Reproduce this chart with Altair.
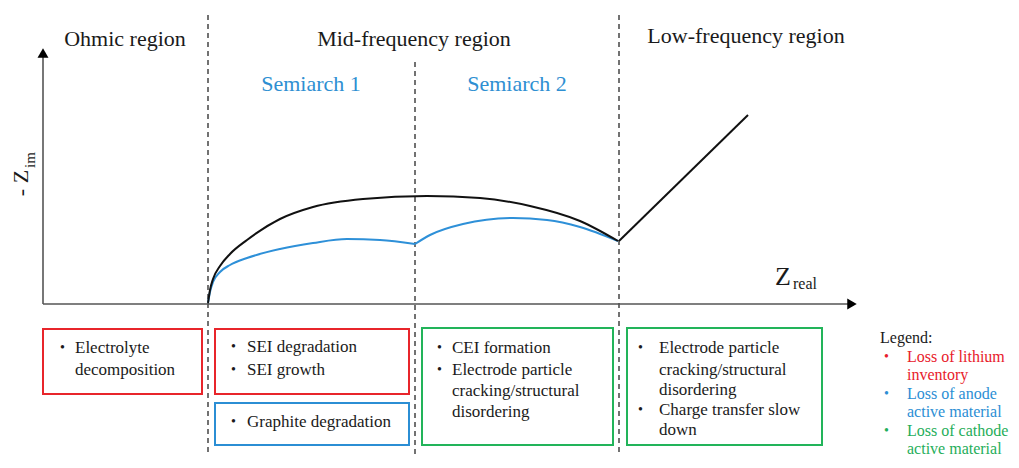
import altair as alt
import pandas as pd

# ---------------- data (image-pixel coordinates of the diagram) ----------------
region_titles = ["Ohmic region", "Mid-frequency region", "Low-frequency region"]
region_title_x = [125, 414, 746]
region_title_y = [39, 39, 36]

semiarch_labels = ["Semiarch 1", "Semiarch 2"]
semiarch_x = [311, 517]
semiarch_y = [84, 84]

divider_x = [208, 415, 619]
divider_top = [15, 62, 15]
divider_bottom = [455, 455, 455]

# Nyquist curves
total_x = [208, 210, 213, 220, 230, 247, 280, 313, 363, 427, 480, 530, 580, 618]
total_y = [303, 290, 279, 266, 254, 240, 219, 207, 199, 196, 198, 206, 221, 241]
anode1_x = [208, 210, 213, 220, 230, 247, 280, 313, 347, 380, 415]
anode1_y = [303, 292, 282, 272, 265, 258, 249, 243, 239, 240, 244]
anode2_x = [415, 430, 463, 513, 547, 580, 618]
anode2_y = [244, 235, 224, 218, 220, 227, 241]
lowfreq_x = [619, 748]
lowfreq_y = [241, 115]

# axes
axis_origin = [43, 304]
yaxis_top = 56
xaxis_right = 849
yarrow_head = [43, 53]
xarrow_head = [852, 304]

# boxes
box_x1 = [43, 215, 215, 422, 627]
box_x2 = [202, 409, 409, 613, 822]
box_y1 = [329, 329, 403, 328, 328]
box_y2 = [394, 394, 445, 445, 445]
box_color = ["#e8252b", "#e8252b", "#2b8ed4", "#22b45a", "#22b45a"]

box_lines = ["Electrolyte", "decomposition", "SEI degradation", "SEI growth",
             "Graphite degradation", "CEI formation", "Electrode particle",
             "cracking/structural", "disordering", "Electrode particle",
             "cracking/structural", "disordering", "Charge transfer slow", "down"]
box_line_x = [75, 75, 247, 247, 247, 452, 452, 452, 452, 659, 659, 659, 659, 659]
box_line_y = [348, 370, 347, 370, 422, 348, 370, 391, 412, 348, 370, 390, 410, 430]
bullet_x = [60, 231, 231, 231, 437, 437, 638, 638]
bullet_y = [348, 347, 370, 422, 348, 370, 348, 410]

legend_title = "Legend:"
legend_lines = ["Loss of lithium", "inventory", "Loss of anode", "active material",
                "Loss of cathode", "active material"]
legend_line_y = [357, 375, 394, 412, 431, 449]
legend_line_color = ["#e8202a", "#e8202a", "#2b8ed4", "#2b8ed4", "#1fae5a", "#1fae5a"]
legend_bullet_y = [357, 394, 431]
legend_bullet_color = ["#e8202a", "#2b8ed4", "#1fae5a"]

FONT = "Liberation Serif"
DARK = "#1a1a1a"
GREY = "#555555"

W, H = 1003, 452
xs = alt.Scale(domain=[8, 8 + W], nice=False, zero=False)
ys = alt.Scale(domain=[8, 8 + H], nice=False, zero=False, reverse=True)


def X(f="x"):
    return alt.X(f"{f}:Q", scale=xs, axis=None)


def Y(f="y"):
    return alt.Y(f"{f}:Q", scale=ys, axis=None)


def text_layer(xv, yv, tv, size, color, align="left", angle=0):
    df = pd.DataFrame({"x": xv, "y": yv, "t": tv})
    kw = dict(font=FONT, fontSize=size, align=align, baseline="middle")
    if angle:
        kw["angle"] = angle
    enc = dict(x=X(), y=Y(), text="t:N")
    if isinstance(color, list):
        df["c"] = color
        enc["color"] = alt.Color("c:N", scale=None)
    else:
        kw["color"] = color
    return alt.Chart(df).mark_text(**kw).encode(**enc)


layers = []

# dashed dividers
div_df = pd.DataFrame({"x": divider_x, "y": divider_top, "y2": divider_bottom})
layers.append(alt.Chart(div_df).mark_rule(color="#444444", strokeWidth=1.5, strokeDash=[5, 4])
              .encode(x=X(), y=Y(), y2="y2:Q"))

# axes
ax_df = pd.DataFrame({"x": [axis_origin[0], axis_origin[0]], "y": [axis_origin[1], axis_origin[1]],
                      "x2": [xaxis_right, axis_origin[0]], "y2": [axis_origin[1], yaxis_top]})
layers.append(alt.Chart(ax_df).mark_rule(color=GREY, strokeWidth=1.6)
              .encode(x=X(), y=Y(), x2="x2:Q", y2="y2:Q"))
layers.append(alt.Chart(pd.DataFrame({"x": [yarrow_head[0]], "y": [yarrow_head[1]]}))
              .mark_point(shape="triangle-up", filled=True, color="#000", size=120, opacity=1)
              .encode(x=X(), y=Y()))
layers.append(alt.Chart(pd.DataFrame({"x": [xarrow_head[0]], "y": [xarrow_head[1]]}))
              .mark_point(shape="triangle-right", filled=True, color="#000", size=120, opacity=1)
              .encode(x=X(), y=Y()))

# curves
def line_layer(xv, yv, color, interp):
    df = pd.DataFrame({"x": xv, "y": yv, "o": list(range(len(xv)))})
    return alt.Chart(df).mark_line(color=color, strokeWidth=2, interpolate=interp).encode(
        x=X(), y=Y(), order="o:Q")

layers.append(line_layer(anode1_x, anode1_y, "#2e90d8", "monotone"))
layers.append(line_layer(anode2_x, anode2_y, "#2e90d8", "monotone"))
layers.append(line_layer(total_x, total_y, "#111111", "monotone"))
layers.append(line_layer(lowfreq_x, lowfreq_y, "#111111", "linear"))

# boxes
box_df = pd.DataFrame({"x": box_x1, "x2": box_x2, "y": box_y1, "y2": box_y2, "c": box_color})
layers.append(alt.Chart(box_df).mark_rect(fillOpacity=0, fill="white", strokeWidth=2)
              .encode(x=X(), x2="x2:Q", y=Y(), y2="y2:Q",
                      stroke=alt.Stroke("c:N", scale=None)))

# titles
layers.append(text_layer(region_title_x, region_title_y, region_titles, 22, DARK, align="center"))
layers.append(text_layer(semiarch_x, semiarch_y, semiarch_labels, 22, "#2e8fd2", align="center"))

# axis labels
layers.append(text_layer([783], [277], ["Z"], 26, DARK, align="center"))
layers.append(text_layer([793], [284], ["real"], 16, DARK))
layers.append(text_layer([21], [183], ["- Z"], 22, DARK, align="center", angle=270))
layers.append(text_layer([30], [160], ["im"], 15, DARK, align="center", angle=270))

# box texts
layers.append(text_layer(box_line_x, box_line_y, box_lines, 17, DARK))
layers.append(text_layer(bullet_x, bullet_y, ["•"] * len(bullet_x), 14, DARK))

# legend
layers.append(text_layer([880], [338], [legend_title], 16, DARK))
layers.append(text_layer([907] * len(legend_lines), legend_line_y, legend_lines, 16, legend_line_color))
layers.append(text_layer([884] * 3, legend_bullet_y, ["•"] * 3, 14, legend_bullet_color))

chart = alt.layer(*layers).properties(
    width=W, height=H, padding=0, autosize=alt.AutoSizeParams(type="none"),
    background="white"
).configure_view(stroke=None)

chart.save("out.html", embed_options={"renderer": "svg", "actions": False})
